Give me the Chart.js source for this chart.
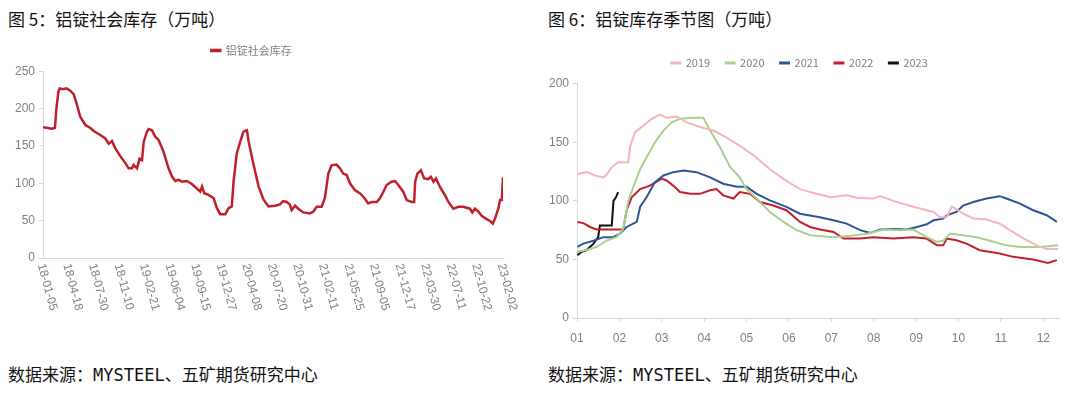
<!DOCTYPE html>
<html>
<head>
<meta charset="utf-8">
<script src="https://cdn.jsdelivr.net/npm/chart.js@4/dist/chart.umd.min.js"></script>
<style>
  body { margin: 0; width: 1080px; height: 397px; background: #fff; position: relative; overflow: hidden; }
  .cap { position: absolute; font: 17px/20px "Noto Sans CJK SC", sans-serif; color: #111; white-space: nowrap; }
  .src { position: absolute; font: 17px/20px "DejaVu Sans Mono", "Noto Sans CJK SC", monospace; color: #111; white-space: nowrap; }
  canvas { position: absolute; }
</style>
</head>
<body>
<div class="cap" style="left:8px;top:9px">图 5：铝锭社会库存（万吨）</div>
<div class="cap" style="left:548px;top:9px">图 6：铝锭库存季节图（万吨）</div>
<canvas id="stock" width="540" height="300" style="left:0;top:30px"></canvas>
<canvas id="season" width="540" height="310" style="left:540px;top:40px"></canvas>
<div class="src" style="left:8px;top:365px">数据来源：MYSTEEL、五矿期货研究中心</div>
<div class="src" style="left:548px;top:365px">数据来源：MYSTEEL、五矿期货研究中心</div>
<script>
// 图5: days counted from 2018-01-05
const stockDays = [0, 20, 35, 48, 54, 62, 67, 80, 95, 110, 124, 137, 150, 171, 191, 204, 231, 251, 265, 278,
  291, 312, 332, 345, 359, 365, 379, 389, 399, 406, 419, 426, 439, 453, 466, 486, 506, 520, 533, 547,
  560, 580, 600, 620, 634, 641, 650, 667, 688, 701, 714, 735, 748, 761, 768, 781, 795, 808, 822, 829,
  849, 869, 889, 909, 935, 955, 968, 982, 995, 1002, 1016, 1029, 1049, 1076, 1089, 1103, 1123, 1136, 1150, 1163,
  1183, 1197, 1210, 1224, 1237, 1257, 1278, 1291, 1311, 1325, 1345, 1358, 1372, 1385, 1405, 1419, 1432, 1452, 1466, 1486,
  1496, 1500, 1509, 1523, 1536, 1553, 1563, 1574, 1584, 1600, 1620, 1634, 1654, 1674, 1694, 1721, 1730, 1741, 1755, 1768,
  1788, 1802, 1813, 1822, 1835, 1842, 1849, 1854];
const stockValues = [175, 174, 173, 174, 200, 222, 227, 226, 227, 224, 219, 205, 189, 178, 174, 170, 164.6, 160, 153, 156.6,
  147, 136, 127, 120, 120, 124.5, 120, 133, 131, 155.7, 169, 172.6, 171, 162, 158, 142, 120, 109, 103, 104.5,
  102, 103, 99, 93, 89, 95.6, 86.7, 84.5, 80, 66.7, 58.7, 58.7, 66.7, 69, 102, 140, 155.7, 169, 171, 155.7,
  124.5, 95.6, 78, 69, 70, 71.7, 76, 75, 71.7, 64, 70, 66, 61, 59.7, 62, 68.6, 68.6, 80, 113, 124,
  125, 120, 113, 111, 100, 91, 86.5, 82, 73, 75, 75, 80, 88.7, 97.6, 102, 103, 97.6, 88.7, 77.5, 75,
  75, 102, 113, 117.6, 106.5, 105.6, 108.7, 102, 106.5, 95, 84, 75, 66, 68.6, 68.6, 66, 61, 66, 62, 56.6,
  52, 49.5, 46, 53, 66, 77.5, 77.5, 108];
const stockTickLabels = ['18-01-05', '18-04-18', '18-07-30', '18-11-10', '19-02-21', '19-06-04', '19-09-15',
  '19-12-27', '20-04-08', '20-07-20', '20-10-31', '21-02-11', '21-05-25', '21-09-05', '21-12-17', '22-03-30',
  '22-07-11', '22-10-22', '23-02-02'];
const tickStepDays = 103;

// 图6: [month position, value]
const monthLabels = ['01', '02', '03', '04', '05', '06', '07', '08', '09', '10', '11', '12'];
const years = ['2019', '2020', '2021', '2022', '2023'];
const y2019 = [[1.01,123],[1.23,124.5],[1.42,121.7],[1.62,120],[1.70,122.5],[1.82,128.8],[1.97,133],[2.21,133],[2.25,146],[2.37,158.6],
  [2.56,164],[2.76,170],[2.96,173.6],[3.11,171],[3.35,172],[3.59,167],[3.90,163],[4.22,160],[4.53,154],[4.84,147],
  [5.16,139],[5.55,127],[5.94,117],[6.26,110],[6.65,106],[6.97,103],[7.36,104.7],[7.60,102.7],[7.99,102],[8.15,104],
  [8.46,100],[8.93,95],[9.41,90.5],[9.56,86],[9.72,86],[9.84,95],[9.95,93],[10.11,89],[10.35,85],[10.66,84],
  [10.97,80.6],[11.21,75],[11.53,68],[11.84,62],[12.08,59],[12.35,59]];
const y2020 = [[1.01,56.5],[1.23,58],[1.46,60.7],[1.70,66],[1.93,69],[2.09,76],[2.21,100],[2.33,112],[2.49,127],[2.64,137],
  [2.84,150],[3.04,160],[3.23,167],[3.43,170],[3.74,171],[3.98,171],[4.14,160],[4.37,146],[4.61,129],[4.84,120],
  [5.00,110],[5.24,102],[5.55,90.5],[5.87,82],[6.18,75],[6.50,70.6],[7.05,69],[7.40,70],[7.84,72],[8.23,75.5],
  [8.62,75],[8.93,75.5],[9.25,69],[9.49,65],[9.64,66],[9.80,72],[10.11,70.6],[10.43,69],[10.74,66],[11.13,62],
  [11.45,60.7],[11.92,60.7],[12.35,62]];
const y2021 = [[1.01,60.7],[1.15,63.5],[1.39,66],[1.62,69],[1.86,69],[2.01,72],[2.17,77.7],[2.41,82],[2.49,95],[2.64,103],
  [2.84,116],[3.04,121.7],[3.27,124.5],[3.51,126],[3.82,124.5],[4.14,120],[4.45,114.6],[4.77,112],[5.00,112],[5.24,106],
  [5.55,100.4],[5.94,94.8],[6.26,89],[6.73,86],[7.05,83.4],[7.36,80.6],[7.68,75],[7.92,72.6],[8.15,75.5],[8.46,76],
  [8.78,75.5],[9.02,77.7],[9.25,80],[9.41,83.4],[9.64,84.8],[9.72,87.7],[9.95,90.5],[10.11,96],[10.35,99],[10.66,102],
  [10.97,104],[11.13,102],[11.45,97.6],[11.76,92],[12.08,87.7],[12.32,82]];
const y2022 = [[1.01,82],[1.15,81],[1.31,77.7],[1.46,75.5],[2.09,75.5],[2.17,92],[2.29,103],[2.49,110],[2.72,113],[3.00,119],
  [3.11,117.4],[3.27,113],[3.43,107.5],[3.67,106],[3.90,106],[4.14,109],[4.29,110],[4.45,104.7],[4.69,102],[4.84,107.5],
  [5.08,106],[5.32,99],[5.63,96],[5.94,92],[6.26,82],[6.50,77.7],[6.73,75.5],[7.05,73.5],[7.29,67.8],[7.68,67.8],
  [7.99,69],[8.46,67.8],[8.93,69],[9.25,67.8],[9.49,62],[9.64,62],[9.72,67.8],[9.95,66.4],[10.19,63.5],[10.50,57.9],
  [10.97,55],[11.29,52.2],[11.76,50],[12.11,47],[12.32,49.4]];
const y2023 = [[1.01,53.6],[1.11,56.5],[1.23,58],[1.39,63.5],[1.50,69],[1.54,79],[1.82,79],[1.86,100],[1.92,103],[1.97,107.5]];
const yearColors = ['#f4b6be', '#a9d18e', '#2f5597', '#c0202b', '#111111'];

const tickFont = { family: '"Liberation Sans Narrow", "Liberation Sans", sans-serif', size: 12 };
const legendFont = { family: '"Noto Sans CJK SC", sans-serif', size: 11 };
const gray = '#808080';
const axisGray = '#d9d9d9';
// empty title sitting between legend and plot, just to open the gap
const legendGap = { display: true, text: '', weight: 500, font: { size: 1 }, padding: { top: 0, bottom: 4 } };

// x labels on the stock chart run downward (clockwise), which Chart.js can't rotate to
const slantedTicks = {
  id: 'slantedTicks',
  afterDraw(chart) {
    const scale = chart.scales.x;
    const ctx = chart.ctx;
    ctx.save();
    ctx.font = '12px ' + tickFont.family;
    ctx.fillStyle = gray;
    ctx.textAlign = 'left';
    ctx.textBaseline = 'middle';
    scale.ticks.forEach((t, i) => {
      ctx.save();
      ctx.translate(scale.getPixelForTick(i) - 2, scale.top + 6);
      ctx.rotate(75 * Math.PI / 180);
      ctx.fillText(stockTickLabels[Math.round(t.value / tickStepDays)], 0, 0);
      ctx.restore();
    });
    ctx.restore();
  }
};

new Chart(document.getElementById('stock'), {
  type: 'line',
  data: {
    datasets: [{
      label: '铝锭社会库存',
      data: stockDays.map((d, i) => ({ x: d, y: stockValues[i] })),
      borderColor: '#c0202b',
      backgroundColor: '#c0202b',
      borderWidth: 2.5,
      pointRadius: 0,
      tension: 0
    }]
  },
  options: {
    responsive: false,
    animation: false,
    devicePixelRatio: 1,
    layout: { padding: { top: 2, right: 37, left: 0, bottom: 0 } },
    plugins: {
      title: legendGap,
      legend: {
        labels: { boxWidth: 9, boxHeight: 1, color: gray, font: legendFont, padding: 13 }
      },
      tooltip: { enabled: false }
    },
    scales: {
      x: {
        type: 'linear',
        min: 0,
        max: tickStepDays * (stockTickLabels.length - 1),
        ticks: { stepSize: tickStepDays, display: false },
        grid: { display: false },
        border: { color: axisGray, width: 1 },
        afterFit: s => { s.height = 72; }
      },
      y: {
        min: 0,
        max: 250,
        ticks: { stepSize: 50, color: gray, font: tickFont, padding: 4 },
        grid: { drawOnChartArea: false, tickLength: 4, color: axisGray },
        border: { color: axisGray, width: 1 },
        afterFit: s => { s.width = 43; }
      }
    }
  },
  plugins: [slantedTicks]
});

new Chart(document.getElementById('season'), {
  type: 'line',
  data: {
    datasets: [y2019, y2020, y2021, y2022, y2023].map((s, i) => ({
      label: years[i],
      data: s.map(p => ({ x: p[0], y: p[1] })),
      borderColor: yearColors[i],
      backgroundColor: yearColors[i],
      borderWidth: 2,
      pointRadius: 0,
      tension: 0
    }))
  },
  options: {
    responsive: false,
    animation: false,
    devicePixelRatio: 1,
    layout: { padding: { top: 2, right: 21, left: 0, bottom: 0 } },
    plugins: {
      title: legendGap,
      legend: {
        labels: { boxWidth: 9, boxHeight: 1, color: gray, font: legendFont, padding: 15.5 }
      },
      tooltip: { enabled: false }
    },
    scales: {
      x: {
        type: 'linear',
        min: 1,
        max: 12.37,
        ticks: { color: gray, font: tickFont, padding: 9, callback: v => monthLabels[v - 1] },
        afterBuildTicks: s => { s.ticks = monthLabels.map((m, i) => ({ value: i + 1 })); },
        grid: { drawOnChartArea: false, tickLength: 4, color: axisGray },
        border: { color: axisGray, width: 1 },
        afterFit: s => { s.height = 32; }
      },
      y: {
        min: 0,
        max: 200,
        ticks: { stepSize: 50, color: gray, font: tickFont, padding: 4 },
        grid: { drawOnChartArea: false, tickLength: 4, color: axisGray },
        border: { color: axisGray, width: 1 },
        afterFit: s => { s.width = 37; }
      }
    }
  }
});
</script>
</body>
</html>
